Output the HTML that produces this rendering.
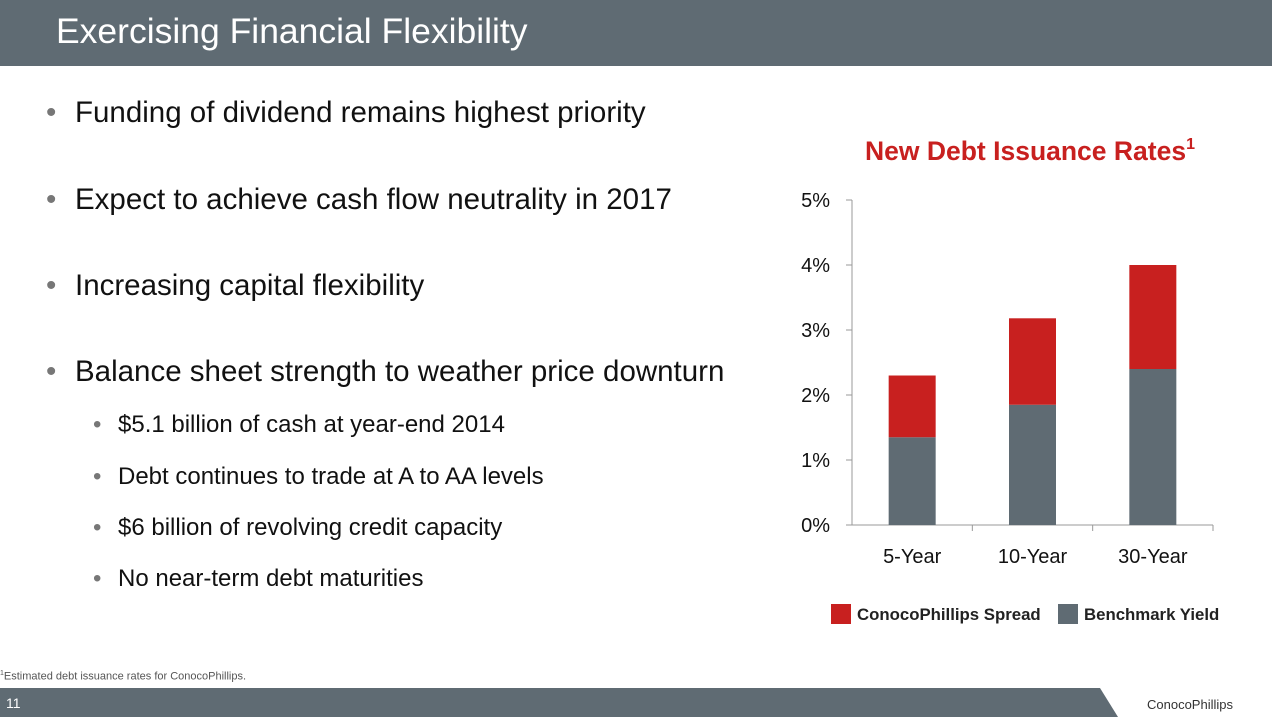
<!DOCTYPE html>
<html><head><meta charset="utf-8"><style>
body{margin:0;width:1272px;height:717px;overflow:hidden;background:#fff;font-family:"Liberation Sans",sans-serif;position:relative}
.hdr{position:absolute;left:0;top:0;width:1272px;height:66px;background:#5f6b73}
.hdr span{position:absolute;left:56px;top:11px;color:#fff;font-size:35.5px}
.b{position:absolute;color:#111;font-size:29.5px}
.b:before{content:"•";position:absolute;left:-29px;color:#777}
.s{position:absolute;color:#111;font-size:24px}
.s:before{content:"•";position:absolute;left:-25px;color:#777}
.ftr{position:absolute;left:0;top:688px;width:1272px;height:29px;background:#5f6b73}
</style></head><body>
<div class="hdr"><span>Exercising Financial Flexibility</span></div>
<div class="b" style="left:75px;top:96px">Funding of dividend remains highest priority</div>
<div class="b" style="left:75px;top:183px">Expect to achieve cash flow neutrality in 2017</div>
<div class="b" style="left:75px;top:269px">Increasing capital flexibility</div>
<div class="b" style="left:75px;top:355px">Balance sheet strength to weather price downturn</div>
<div class="s" style="left:118px;top:411px">$5.1 billion of cash at year-end 2014</div>
<div class="s" style="left:118px;top:463px">Debt continues to trade at A to AA levels</div>
<div class="s" style="left:118px;top:514px">$6 billion of revolving credit capacity</div>
<div class="s" style="left:118px;top:565px">No near-term debt maturities</div>
<div style="position:absolute;left:0;top:670px;font-size:11px;color:#555"><sup style="font-size:7px">1</sup>Estimated debt issuance rates for ConocoPhillips.</div>
<div class="ftr"></div>
<div style="position:absolute;left:6px;top:695px;color:#fff;font-size:14px">11</div>
<svg style="position:absolute;left:0;top:0" width="1272" height="717">
<polygon points="1100,688 1272,688 1272,717 1118,717" fill="#fff"/>
<text x="1190" y="709" font-size="13" text-anchor="middle" fill="#333" font-family="Liberation Sans, sans-serif">ConocoPhillips</text>
<text x="1030" y="160" font-size="26.5" font-weight="bold" fill="#c8201f" text-anchor="middle" font-family="Liberation Sans, sans-serif">New Debt Issuance Rates<tspan font-size="16" dy="-11">1</tspan></text>
<g id="g"></g>
<rect x="831" y="604" width="20" height="20" fill="#c8201f"/>
<text x="857" y="620" font-size="16.8" font-weight="bold" fill="#222" font-family="Liberation Sans, sans-serif">ConocoPhillips Spread</text>
<rect x="1058" y="604" width="20" height="20" fill="#5f6b73"/>
<text x="1084" y="620" font-size="16.8" font-weight="bold" fill="#222" font-family="Liberation Sans, sans-serif">Benchmark Yield</text>
</svg>
<script>
const categories=["5-Year","10-Year","30-Year"];
const benchmark=[1.35,1.85,2.4];
const spread=[0.95,1.33,1.6];
const yTicks=[0,1,2,3,4,5];
const ns="http://www.w3.org/2000/svg",g=document.getElementById('g');
const x0=852,x1=1213,y0=525,y5=200;
const y=v=>y0-(v/5)*(y0-y5);
const bw=(x1-x0)/categories.length;
const xc=i=>x0+bw*(i+0.5);
function mk(t,a){const e=document.createElementNS(ns,t);for(const k in a)e.setAttribute(k,a[k]);g.appendChild(e);return e;}
let ax=mk('line',{x1:x0,y1:y5,x2:x0,y2:y0,stroke:'#999'});


let bx=mk('line',{x1:x0,y1:y0,x2:x1,y2:y0,stroke:'#999'});


yTicks.forEach(t=>{
 let l=mk('line',{x1:x0-6,y1:y(t),x2:x0,y2:y(t),stroke:'#999'});
 
 
 let tx=mk('text',{x:x0-22,y:y(t)+7,'font-size':20,'text-anchor':'end',fill:'#111','font-family':'Liberation Sans, sans-serif'});
 tx.textContent=t+'%';
 
 
});
categories.forEach((c,i)=>{
 let tk=mk('line',{x1:x0+bw*(i+1),y1:y0,x2:x0+bw*(i+1),y2:y0+6,stroke:'#999'});
 
 
 const w=47;
 let r1=mk('rect',{x:xc(i)-w/2,y:y(benchmark[i]),width:w,height:y0-y(benchmark[i]),fill:'#5f6b73'});
 
 
 let r2=mk('rect',{x:xc(i)-w/2,y:y(benchmark[i]+spread[i]),width:w,height:y(benchmark[i])-y(benchmark[i]+spread[i]),fill:'#c8201f'});
 
 
 let tx=mk('text',{x:xc(i),y:y0+38,'font-size':20,'text-anchor':'middle',fill:'#111','font-family':'Liberation Sans, sans-serif'});
 tx.textContent=c;
 
 
});
</script>
</body></html>
